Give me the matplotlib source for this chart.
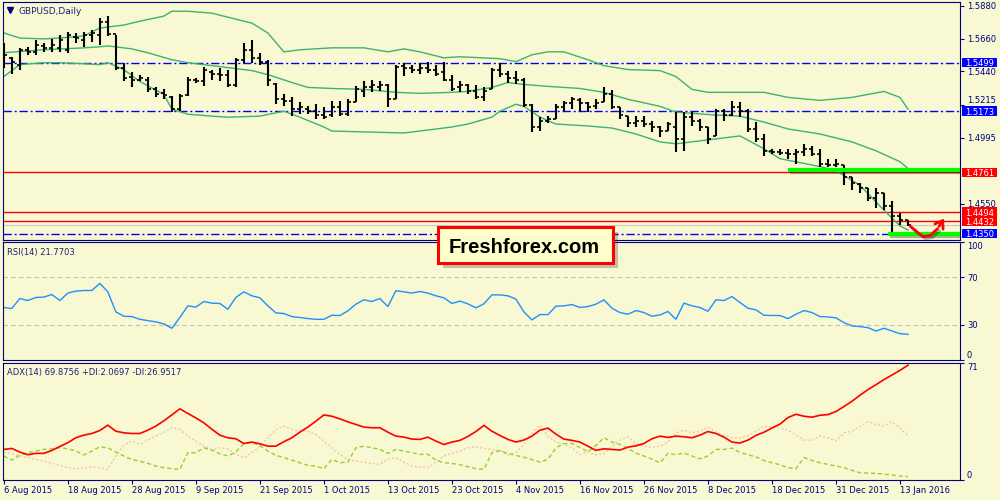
import numpy as np
import matplotlib.pyplot as plt
from matplotlib.patches import Rectangle
from matplotlib.transforms import blended_transform_factory
import matplotlib.patheffects as pe

plt.rcParams['font.family'] = ['DejaVu Sans']

BG = '#F8F8D2'
NAVY = '#000080'

# --- daily bars GBPUSD, 6 Aug 2015 .. 14 Jan 2016 ---
opens = [1.5505, 1.5531, 1.5485, 1.5585, 1.5572, 1.5611, 1.5598, 1.5598, 1.5585, 1.5671,
         1.5651, 1.5684, 1.5684, 1.5771, 1.5691, 1.5465, 1.5405, 1.5385, 1.5385, 1.5319,
         1.5292, 1.5265, 1.5186, 1.5279, 1.5385, 1.5372, 1.5438, 1.5425, 1.5418, 1.5345,
         1.5518, 1.5585, 1.5531, 1.5505, 1.5358, 1.5252, 1.5239, 1.5186, 1.5186, 1.5172,
         1.5146, 1.5146, 1.5199, 1.5152, 1.5232, 1.5305, 1.5332, 1.5332, 1.5345, 1.5252,
         1.5478, 1.5465, 1.5452, 1.5465, 1.5452, 1.5438, 1.5385, 1.5332, 1.5345, 1.5305,
         1.5265, 1.5319, 1.5452, 1.5425, 1.5398, 1.5385, 1.5212, 1.5066, 1.5106, 1.5119,
         1.5199, 1.5226, 1.5245, 1.5226, 1.5205, 1.5232, 1.5285, 1.5199, 1.5139, 1.5092,
         1.5106, 1.5086, 1.5066, 1.5039, 1.5066, 1.4986, 1.5132, 1.5106, 1.5066, 1.5006,
         1.5172, 1.5146, 1.5199, 1.5172, 1.5053, 1.4986, 1.4906, 1.4900, 1.4893, 1.4886,
         1.4900, 1.4920, 1.4886, 1.4820, 1.4813, 1.4813, 1.4733, 1.4680, 1.4654, 1.4587,
         1.4620, 1.4534, 1.4467, 1.4441]
highs = [1.5631, 1.5538, 1.5598, 1.5605, 1.5651, 1.5631, 1.5658, 1.5684, 1.5704, 1.5698,
         1.5704, 1.5718, 1.5797, 1.5811, 1.5684, 1.5498, 1.5438, 1.5418, 1.5405, 1.5332,
         1.5319, 1.5272, 1.5285, 1.5405, 1.5398, 1.5472, 1.5452, 1.5465, 1.5452, 1.5531,
         1.5631, 1.5651, 1.5565, 1.5518, 1.5365, 1.5285, 1.5265, 1.5232, 1.5205, 1.5219,
         1.5199, 1.5239, 1.5239, 1.5252, 1.5339, 1.5372, 1.5385, 1.5372, 1.5352, 1.5485,
         1.5498, 1.5485, 1.5498, 1.5505, 1.5485, 1.5505, 1.5418, 1.5372, 1.5352, 1.5345,
         1.5332, 1.5465, 1.5498, 1.5445, 1.5445, 1.5398, 1.5219, 1.5132, 1.5139, 1.5219,
         1.5239, 1.5265, 1.5259, 1.5232, 1.5252, 1.5332, 1.5312, 1.5199, 1.5139, 1.5139,
         1.5139, 1.5106, 1.5073, 1.5099, 1.5166, 1.5166, 1.5166, 1.5119, 1.5066, 1.5186,
         1.5186, 1.5239, 1.5232, 1.5186, 1.5099, 1.5019, 1.4920, 1.4920, 1.4920, 1.4920,
         1.4953, 1.4939, 1.4920, 1.4853, 1.4853, 1.4813, 1.4733, 1.4687, 1.4654, 1.4654,
         1.4620, 1.4567, 1.4487, 1.4441]
lows = [1.5465, 1.5425, 1.5452, 1.5551, 1.5551, 1.5572, 1.5572, 1.5572, 1.5565, 1.5631,
        1.5605, 1.5638, 1.5618, 1.5678, 1.5452, 1.5372, 1.5332, 1.5372, 1.5299, 1.5265,
        1.5252, 1.5166, 1.5172, 1.5272, 1.5365, 1.5339, 1.5385, 1.5372, 1.5332, 1.5332,
        1.5498, 1.5498, 1.5485, 1.5339, 1.5219, 1.5205, 1.5139, 1.5152, 1.5152, 1.5119,
        1.5119, 1.5132, 1.5139, 1.5139, 1.5232, 1.5265, 1.5299, 1.5305, 1.5199, 1.5252,
        1.5411, 1.5432, 1.5425, 1.5432, 1.5411, 1.5372, 1.5305, 1.5299, 1.5285, 1.5252,
        1.5239, 1.5319, 1.5405, 1.5365, 1.5352, 1.5199, 1.5033, 1.5039, 1.5092, 1.5119,
        1.5172, 1.5186, 1.5172, 1.5166, 1.5186, 1.5232, 1.5186, 1.5119, 1.5066, 1.5066,
        1.5066, 1.5033, 1.4999, 1.5039, 1.4900, 1.4906, 1.5073, 1.5039, 1.4953, 1.5006,
        1.5106, 1.5139, 1.5132, 1.5033, 1.4966, 1.4873, 1.4886, 1.4880, 1.4853, 1.4820,
        1.4873, 1.4873, 1.4800, 1.4800, 1.4800, 1.4673, 1.4640, 1.4620, 1.4567, 1.4521,
        1.4507, 1.4354, 1.4408, 1.4401]
closes = [1.5551, 1.5505, 1.5585, 1.5572, 1.5618, 1.5598, 1.5618, 1.5651, 1.5684, 1.5664,
          1.5684, 1.5698, 1.5771, 1.5691, 1.5465, 1.5398, 1.5385, 1.5398, 1.5319, 1.5285,
          1.5279, 1.5186, 1.5272, 1.5385, 1.5372, 1.5452, 1.5425, 1.5418, 1.5345, 1.5518,
          1.5585, 1.5531, 1.5505, 1.5385, 1.5252, 1.5239, 1.5186, 1.5199, 1.5172, 1.5146,
          1.5132, 1.5199, 1.5152, 1.5232, 1.5319, 1.5332, 1.5345, 1.5345, 1.5252, 1.5472,
          1.5465, 1.5452, 1.5465, 1.5452, 1.5425, 1.5385, 1.5319, 1.5345, 1.5305, 1.5265,
          1.5305, 1.5452, 1.5425, 1.5398, 1.5385, 1.5212, 1.5066, 1.5106, 1.5119, 1.5199,
          1.5226, 1.5252, 1.5226, 1.5199, 1.5226, 1.5285, 1.5199, 1.5146, 1.5092, 1.5106,
          1.5086, 1.5066, 1.5039, 1.5086, 1.4986, 1.5132, 1.5106, 1.5066, 1.4986, 1.5172,
          1.5146, 1.5199, 1.5172, 1.5053, 1.4986, 1.4906, 1.4900, 1.4893, 1.4886, 1.4900,
          1.4920, 1.4886, 1.4820, 1.4813, 1.4820, 1.4733, 1.4687, 1.4654, 1.4587, 1.4620,
          1.4534, 1.4467, 1.4441, 1.4408]

# Bollinger bands, read at selected bars
upper_i = [0, 2, 5, 7, 10, 12, 15, 17, 20, 21, 23, 26, 28, 31, 33, 35, 37, 41, 45, 48,
           50, 52, 55, 57, 62, 64, 66, 68, 70, 73, 75, 78, 82, 84, 86, 88, 95, 98, 102, 106,
           110, 112, 113]
upper_v = [1.5698, 1.5664, 1.5658, 1.5664, 1.5678, 1.5731, 1.5751, 1.5777, 1.5811, 1.5844,
           1.5844, 1.5831, 1.5804, 1.5764, 1.5698, 1.5571, 1.5585, 1.5598, 1.5598, 1.5571,
           1.5591, 1.5571, 1.5531, 1.5538, 1.5525, 1.5505, 1.5551, 1.5571, 1.5571, 1.5518,
           1.5478, 1.5452, 1.5445, 1.5405, 1.5319, 1.5299, 1.5299, 1.5265, 1.5245, 1.5265,
           1.5305, 1.5265, 1.5186]
middle_i = [0, 5, 10, 12, 13, 16, 18, 21, 23, 27, 31, 33, 36, 38, 41, 45, 49, 52, 56, 58,
            61, 63, 65, 68, 72, 75, 78, 82, 84, 89, 92, 95, 98, 102, 106, 109, 112, 113]
middle_v = [1.5565, 1.5585, 1.5598, 1.5605, 1.5611, 1.5591, 1.5565, 1.5518, 1.5498, 1.5472,
            1.5445, 1.5418, 1.5365, 1.5332, 1.5325, 1.5319, 1.5299, 1.5292, 1.5299, 1.5305,
            1.5332, 1.5365, 1.5352, 1.5339, 1.5325, 1.5299, 1.5252, 1.5205, 1.5166, 1.5146,
            1.5139, 1.5099, 1.5053, 1.5019, 1.4966, 1.4906, 1.4833, 1.4787]
lower_i = [0, 2, 5, 7, 10, 12, 13, 15, 17, 20, 21, 23, 26, 28, 32, 35, 37, 40, 41, 45,
           50, 52, 56, 58, 61, 62, 64, 65, 67, 69, 73, 76, 79, 82, 84, 89, 92, 95, 97, 102,
           104, 107, 110, 112, 113]
lower_v = [1.5405, 1.5485, 1.5498, 1.5498, 1.5491, 1.5485, 1.5498, 1.5452, 1.5372, 1.5285,
           1.5186, 1.5152, 1.5139, 1.5132, 1.5139, 1.5172, 1.5132, 1.5066, 1.5039, 1.5033,
           1.5026, 1.5039, 1.5066, 1.5086, 1.5132, 1.5172, 1.5219, 1.5205, 1.5132, 1.5086,
           1.5073, 1.5059, 1.5019, 1.4966, 1.4953, 1.4986, 1.5006, 1.4920, 1.4853, 1.4800,
           1.4773, 1.4674, 1.4507, 1.4401, 1.4374]

rsi = [44.5, 43.6, 52.1, 50.4, 53.0, 53.3, 55.5, 50.4, 56.7, 58.4,
       58.9, 58.9, 64.9, 57.8, 40.8, 37.1, 36.8, 34.5, 33.4, 32.3,
       30.6, 26.9, 36.0, 45.9, 44.8, 49.6, 48.2, 47.9, 43.0, 53.0,
       57.8, 54.4, 52.7, 45.9, 39.9, 39.4, 36.8, 36.0, 35.1, 34.5,
       34.5, 37.9, 37.7, 41.6, 47.3, 51.0, 49.6, 52.1, 45.3, 58.7,
       57.8, 56.7, 58.1, 56.7, 54.4, 52.7, 47.9, 49.9, 47.6, 44.2,
       47.6, 55.2, 55.2, 54.4, 51.6, 40.8, 34.0, 38.5, 38.5, 45.6,
       45.9, 47.0, 44.5, 45.3, 47.3, 51.0, 43.9, 40.2, 38.8, 41.9,
       40.2, 37.1, 38.2, 41.1, 34.5, 48.2, 45.9, 44.5, 41.3, 51.0,
       50.4, 53.8, 48.7, 43.9, 42.5, 37.9, 37.7, 37.7, 35.1, 38.8,
       41.9, 40.2, 36.8, 36.5, 35.7, 31.7, 28.9, 28.3, 27.4, 24.6,
       26.9, 24.6, 22.3, 21.77]

adx = [18.6, 19.2, 17.0, 15.4, 16.2, 16.2, 18.0, 20.4, 22.7, 25.7,
       27.3, 28.3, 30.1, 33.4, 29.7, 28.7, 28.3, 28.3, 30.3, 32.8,
       36.0, 39.6, 43.3, 40.5, 37.8, 34.8, 30.9, 27.3, 25.7, 25.1,
       22.2, 23.1, 22.0, 20.6, 20.6, 23.3, 25.7, 29.1, 32.2, 35.8,
       39.6, 38.8, 37.2, 35.4, 33.8, 32.2, 31.8, 31.8, 29.1, 26.7,
       26.1, 24.9, 24.7, 26.1, 23.7, 21.6, 23.1, 24.1, 26.5, 29.5,
       33.2, 29.7, 27.1, 24.7, 23.1, 24.3, 26.7, 30.3, 31.6, 27.9,
       24.9, 24.1, 23.1, 20.6, 18.0, 19.0, 18.6, 18.2, 20.0, 20.8,
       22.2, 25.1, 26.7, 25.9, 26.7, 26.3, 25.7, 27.3, 29.5, 28.3,
       26.1, 23.1, 22.5, 24.3, 27.1, 29.1, 31.6, 34.0, 38.0, 40.0,
       38.8, 38.2, 39.4, 39.8, 41.7, 44.7, 47.9, 51.6, 55.0, 58.0,
       61.1, 63.9, 66.7, 69.88]
plus_di = [14.6, 12.1, 15.0, 16.6, 17.6, 18.6, 19.0, 19.6, 19.0, 17.6,
           15.2, 17.6, 20.2, 19.6, 17.0, 14.6, 12.5, 11.5, 10.1, 8.5,
           7.5, 6.9, 6.5, 16.6, 16.6, 19.6, 18.2, 16.0, 14.6, 17.0,
           22.2, 22.7, 21.0, 17.6, 15.0, 13.6, 12.1, 10.5, 8.9, 8.5,
           6.9, 12.5, 10.5, 10.9, 19.6, 20.6, 19.6, 18.6, 16.2, 18.6,
           17.6, 16.6, 15.6, 15.6, 12.1, 10.5, 10.1, 9.3, 8.1, 6.9,
           6.5, 16.6, 17.8, 16.2, 15.0, 13.8, 12.5, 10.9, 12.5, 19.6,
           22.2, 22.2, 19.8, 17.2, 21.0, 25.7, 23.1, 21.6, 19.2, 16.2,
           14.6, 12.7, 10.5, 16.2, 15.4, 16.4, 14.6, 12.9, 14.6, 18.6,
           18.6, 19.4, 16.8, 15.4, 14.0, 11.9, 10.5, 9.3, 7.5, 6.9,
           13.6, 11.9, 10.5, 9.5, 8.5, 7.5, 5.9, 4.4, 4.2, 4.0,
           3.6, 3.0, 2.4, 2.07]
minus_di = [16.6, 16.0, 14.6, 13.6, 12.5, 11.5, 10.1, 8.9, 7.5, 6.9,
            7.3, 7.9, 7.5, 6.5, 14.6, 21.2, 23.7, 21.6, 24.3, 26.7,
            29.1, 31.8, 30.7, 26.7, 23.7, 20.6, 18.6, 19.6, 19.0, 15.6,
            13.6, 16.6, 20.2, 25.7, 30.7, 32.8, 30.7, 29.7, 29.7, 27.7,
            23.7, 19.6, 15.6, 12.5, 11.5, 10.9, 10.1, 9.5, 12.9, 13.6,
            10.9, 8.5, 7.9, 7.5, 10.9, 14.6, 16.2, 17.6, 19.6, 20.2,
            19.2, 18.6, 18.0, 15.0, 16.6, 21.6, 28.3, 33.4, 26.7, 23.1,
            21.8, 19.6, 15.6, 17.2, 15.2, 16.0, 20.2, 24.3, 26.3, 22.2,
            20.6, 20.0, 20.6, 23.1, 28.7, 30.3, 28.7, 29.7, 32.4, 29.1,
            27.1, 25.7, 25.5, 26.9, 29.7, 32.8, 32.2, 31.6, 30.5, 27.3,
            24.3, 24.3, 26.7, 25.7, 23.7, 28.7, 29.7, 32.6, 35.6, 33.8,
            33.0, 35.4, 31.6, 26.95]

date_index = [0, 8, 16, 24, 32, 40, 48, 56, 64, 72, 80, 88, 96, 104, 112]
date_labels = ['6 Aug 2015', '18 Aug 2015', '28 Aug 2015', '9 Sep 2015', '21 Sep 2015',
               '1 Oct 2015', '13 Oct 2015', '23 Oct 2015', '4 Nov 2015', '16 Nov 2015',
               '26 Nov 2015', '8 Dec 2015', '18 Dec 2015', '31 Dec 2015', '13 Jan 2016']

price_ticks = [1.5880, 1.5660, 1.5440, 1.5215, 1.4995, 1.4550]
blue_levels = [1.5499, 1.5173, 1.4350]
red_levels = [1.4761, 1.4494, 1.4432]
support_levels = [1.4780, 1.4347]
support_start = [98, 110.5]
arrow_x = [113.3, 114.2, 114.9, 115.8, 116.7]
arrow_y = [1.4399, 1.4357, 1.4330, 1.4337, 1.4383]
arrow_tip = (117.7, 1.4466)

rsi_ticks = [100, 70, 30, 0]
adx_ticks = [71, 0]

bars = np.arange(len(closes))

fig = plt.figure(figsize=(10, 5), dpi=100, facecolor=BG)
ax = fig.add_axes([0.003, 0.521, 0.957, 0.475], facecolor=BG)
ax_rsi = fig.add_axes([0.003, 0.28, 0.957, 0.236], facecolor=BG)
ax_adx = fig.add_axes([0.003, 0.04, 0.957, 0.235], facecolor=BG)

for a in (ax, ax_rsi, ax_adx):
    a.set_xlim(-0.1, 119.5)
    for s in a.spines.values():
        s.set_color(NAVY)
        s.set_linewidth(0.8)
    a.yaxis.tick_right()
    a.tick_params(axis='y', direction='out', length=3, width=0.8, colors=NAVY,
                  labelsize=6, pad=2)
    a.tick_params(axis='x', direction='out', length=3, width=0.8, colors=NAVY,
                  labelsize=6, pad=1)
ax.set_xticks([])
ax_rsi.set_xticks([])

# 🔹 main price panel
ax.set_ylim(1.4310, 1.5906)
ax.set_yticks(price_ticks, [f'{v:.4f}' for v in price_ticks])
for lab in ax.get_yticklabels():
    if lab.get_text() == '1.5215':
        lab.set_va('bottom')

shadow = [pe.SimpleLineShadow(offset=(1.5, -1.5), shadow_color='black', alpha=0.3), pe.Normal()]

ax.axhline(closes[-1], color='#C8C8C8', lw=0.8, zorder=1)
for v in blue_levels:
    ax.axhline(v, color='#0000FF', lw=1, ls=(0, (6, 2, 1.5, 2)), zorder=2)
for v in red_levels:
    ax.axhline(v, color='#FF0000', lw=1, zorder=2)

ax.plot(upper_i, upper_v, color='#3CB371', lw=1, zorder=2)
ax.plot(middle_i, middle_v, color='#3CB371', lw=1, zorder=2)
ax.plot(lower_i, lower_v, color='#3CB371', lw=1, zorder=2)

ax.vlines(bars, lows, highs, color='black', lw=1.5, zorder=3)
ax.hlines(opens, bars - 0.4, bars, color='black', lw=1.2, zorder=3)
ax.hlines(closes, bars, bars + 0.4, color='black', lw=1.2, zorder=3)

ax.hlines(support_levels, support_start, 119.5, color='#00FF00', lw=3,
          path_effects=shadow, zorder=4)

ax.plot(arrow_x, arrow_y, color='#FF0000', lw=2, solid_capstyle='round',
        path_effects=shadow, clip_on=False, zorder=6)
ax.annotate('', xy=arrow_tip, xytext=(arrow_x[-1], arrow_y[-1]),
            arrowprops=dict(arrowstyle='->,head_length=0.5,head_width=0.35',
                            color='#FF0000', lw=2),
            annotation_clip=False, zorder=6)

# level labels on the price axis
tr = blended_transform_factory(ax.transAxes, ax.transData)
box_h = 0.0063
for levels, col in ((blue_levels, '#0000FF'), (red_levels, '#FF0000')):
    for v in levels:
        ax.add_patch(Rectangle((1.002, v - box_h / 2), 0.037, box_h, transform=tr,
                               facecolor=col, edgecolor='none', clip_on=False, zorder=5))
        ax.text(1.0205, v, f'{v:.4f}', transform=tr, color='white', fontsize=6,
                ha='center', va='center_baseline', clip_on=False, zorder=6)

ax.plot([0.0075], [0.966], marker='v', ms=4.5, color=NAVY, transform=ax.transAxes,
        clip_on=False)
ax.text(0.0157, 0.962, 'GBPUSD,Daily', transform=ax.transAxes, fontsize=6.5,
        color='#20207F', va='center', ha='left')

# 🔹 RSI panel
ax_rsi.set_ylim(0, 100)
ax_rsi.set_yticks(rsi_ticks, [str(t) for t in rsi_ticks])
for v in (70, 30):
    ax_rsi.axhline(v, color='#C0C0C0', lw=0.8, ls=(0, (4, 3)))
ax_rsi.plot(bars, rsi, color='#1E90FF', lw=1)
ax_rsi.text(0.004, 0.915, 'RSI(14) 21.7703', transform=ax_rsi.transAxes, fontsize=6,
            color='#20207F', va='center', ha='left')

# 🔹 ADX panel
ax_adx.set_ylim(0, 71.5)
ax_adx.set_yticks(adx_ticks, [str(t) for t in adx_ticks])
ax_adx.plot(bars, minus_di, color='#F2C6A6', lw=1, ls=(0, (1.5, 1.5)))
ax_adx.plot(bars, plus_di, color='#9ACD32', lw=1, ls=(0, (3, 2)))
ax_adx.plot(bars, adx, color='#FF0000', lw=1.2)
ax_adx.text(0.004, 0.918, 'ADX(14) 69.8756 +DI:2.0697 -DI:26.9517',
            transform=ax_adx.transAxes, fontsize=6, color='#20207F', va='center', ha='left')
ax_adx.set_xticks(date_index, date_labels)
for lab in ax_adx.get_xticklabels():
    lab.set_ha('left')

for a in (ax_rsi, ax_adx):
    for lab in a.get_yticklabels():
        t = lab.get_text()
        if t in ('100', '71'):
            lab.set_va('top')
        elif t == '0':
            lab.set_va('bottom')

# 🔹 watermark box
fig.add_artist(Rectangle((0.443, 0.465), 0.175, 0.072, transform=fig.transFigure,
                         facecolor='#444444', alpha=0.3, edgecolor='none', zorder=9))
fig.add_artist(Rectangle((0.438, 0.474), 0.175, 0.072, transform=fig.transFigure,
                         facecolor='#FFFFCC', edgecolor='#FF0000', lw=2.2, zorder=10))
fig.text(0.5245, 0.4934, 'Freshforex.com', fontsize=14.5, fontweight='bold',
         family='Liberation Sans', ha='center', va='baseline', zorder=11)

fig.savefig('out.png', dpi=100, facecolor=BG)
